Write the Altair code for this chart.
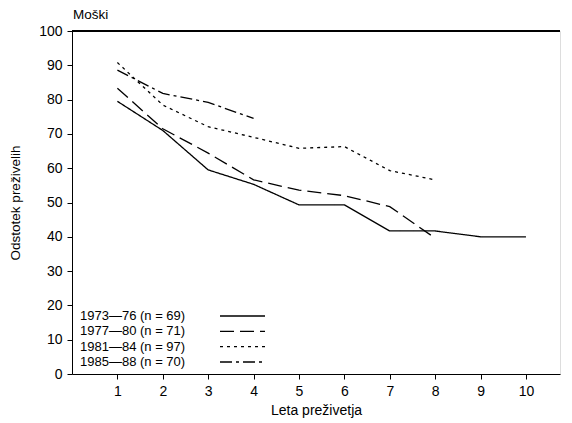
import altair as alt
import pandas as pd

series = ["1973—76 (n = 69)", "1977—80 (n = 71)", "1981—84 (n = 97)", "1985—88 (n = 70)"]
years = [1, 2, 3, 4, 5, 6, 7, 8, 9, 10]
s1973 = [79.5, 71, 59.5, 55.3, 49.3, 49.3, 41.7, 41.7, 40, 40]
s1977 = [83.3, 71.5, 64.4, 56.6, 53.6, 52, 48.8, 39.6]
s1981 = [90.8, 78.4, 72.1, 69, 65.8, 66.3, 59.3, 56.6]
s1985 = [88.6, 81.8, 79.2, 74.5]
y_ticks = [0, 10, 20, 30, 40, 50, 60, 70, 80, 90, 100]
title_text = "Moški"

rows = []
for name, vals in zip(series, [s1973, s1977, s1981, s1985]):
    for x, v in zip(years, vals):
        rows.append({"leto": x, "odstotek": v, "serija": name})
df = pd.DataFrame(rows)
leg = pd.DataFrame({"serija": series})
ttl = pd.DataFrame({"t": [title_text]})

W, H = 488, 343
FONT = "Liberation Sans"
dashes = [[1, 0], [14, 6], [3, 4], [12, 4, 3, 4]]
dash_scale = alt.Scale(domain=series, range=dashes)

lines = alt.Chart(df).mark_line(color="black", strokeWidth=1.3).encode(
    x=alt.X("leto:Q", scale=alt.Scale(domain=[0, 10.75], nice=False),
            axis=alt.Axis(values=years, title="Leta preživetja", grid=False,
                          tickSize=5, labelPadding=5, domainColor="black",
                          tickColor="black", labelFontSize=14, titleFontSize=14,
                          titleFontWeight="normal", labelColor="black",
                          titleColor="black", titlePadding=5, labelFont=FONT, titleFont=FONT)),
    y=alt.Y("odstotek:Q", scale=alt.Scale(domain=[0, 100], nice=False),
            axis=alt.Axis(values=y_ticks, title="Odstotek preživelih", grid=False,
                          tickSize=5, labelPadding=5, domainColor="black",
                          tickColor="black", labelFontSize=14, titleFontSize=13.5,
                          titleFontWeight="normal", labelColor="black",
                          titleColor="black", titlePadding=16, labelFont=FONT, titleFont=FONT)),
    strokeDash=alt.StrokeDash("serija:N", scale=dash_scale, legend=None),
    detail="serija:N",
)

top = alt.Chart(leg).mark_rule(color="black", strokeWidth=1.5).encode(
    x=alt.value(0), x2=alt.value(W), y=alt.value(0)
)

title_mark = alt.Chart(ttl).mark_text(
    align="left", baseline="alphabetic", fontSize=13.5, font=FONT, color="black"
).encode(x=alt.value(1), y=alt.value(-12), text="t:N")

row_scale = alt.Scale(domain=series, type="point", range=[285, 331], padding=0)

leg_text = alt.Chart(leg).mark_text(
    align="left", baseline="middle", fontSize=13, font=FONT, color="black"
).encode(
    x=alt.value(8),
    y=alt.Y("serija:N", scale=row_scale, axis=None),
    text="serija:N",
)

leg_line = alt.Chart(leg).mark_rule(color="black", strokeWidth=1.3).encode(
    x=alt.value(148), x2=alt.value(193),
    y=alt.Y("serija:N", scale=row_scale, axis=None),
    strokeDash=alt.StrokeDash("serija:N", scale=dash_scale, legend=None),
)

chart = alt.layer(lines, top, title_mark, leg_text, leg_line).resolve_scale(
    y="independent"
).properties(
    width=W, height=H,
    autosize=alt.AutoSizeParams(type="none"),
    padding={"left": 64, "top": 23, "right": 4, "bottom": 46},
).configure_view(stroke=None).configure(background="white")

chart.save("out.html", embed_options={"renderer": "svg", "actions": False})
